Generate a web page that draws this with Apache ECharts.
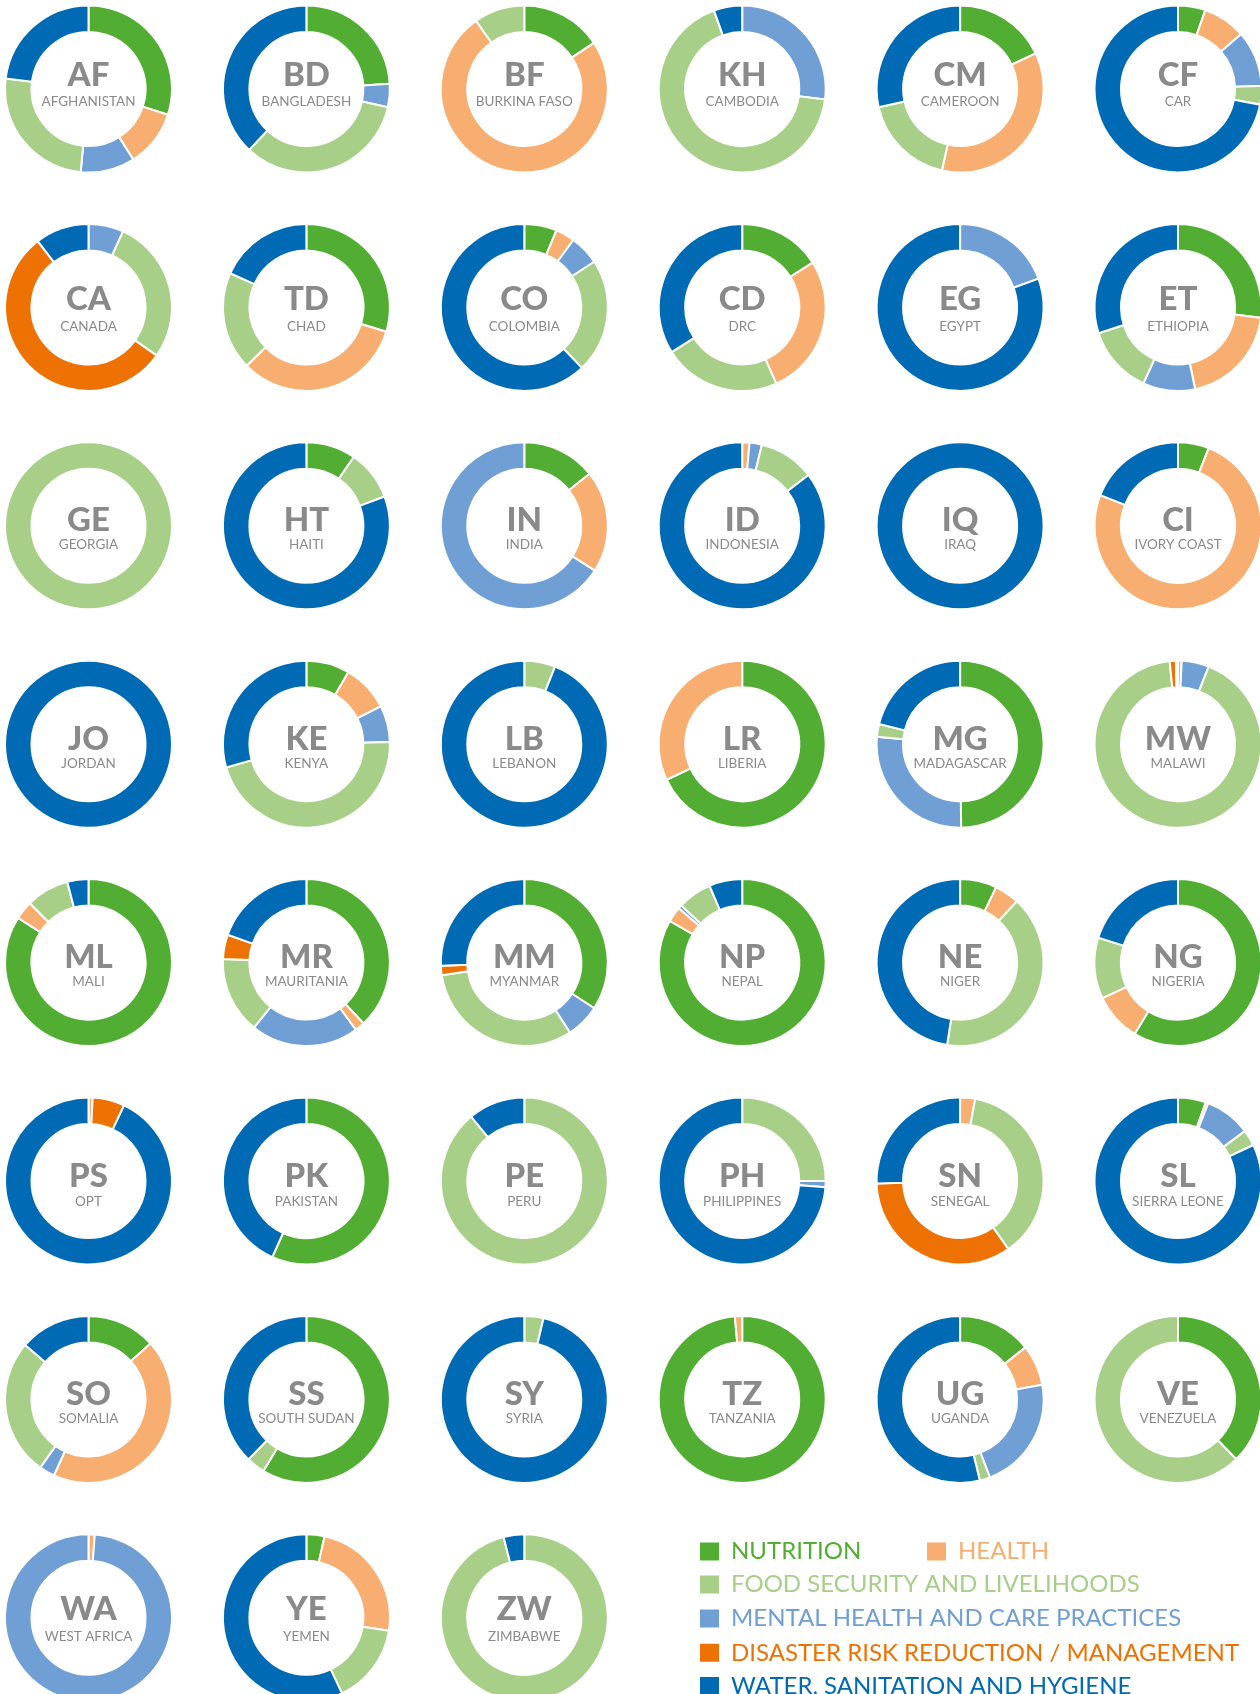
<!DOCTYPE html>
<html>
<head>
<meta charset="utf-8">
<script src="https://cdn.jsdelivr.net/npm/echarts@6/dist/echarts.min.js"></script>
<style>
  html, body { margin: 0; padding: 0; background: #ffffff; }
  #chart { width: 1260px; height: 1694px; }
</style>
</head>
<body>
<div id="chart"></div>
<script>
// ---- DATA ----
const categories = [
  'NUTRITION',
  'HEALTH',
  'MENTAL HEALTH AND CARE PRACTICES',
  'FOOD SECURITY AND LIVELIHOODS',
  'DISASTER RISK REDUCTION / MANAGEMENT',
  'WATER, SANITATION AND HYGIENE'
];
const codes = ['AF','BD','BF','KH','CM','CF','CA','TD','CO','CD','EG','ET','GE','HT','IN','ID','IQ','CI',
  'JO','KE','LB','LR','MG','MW','ML','MR','MM','NP','NE','NG','PS','PK','PE','PH','SN','SL',
  'SO','SS','SY','TZ','UG','VE','WA','YE','ZW'];
const countryNames = ['AFGHANISTAN','BANGLADESH','BURKINA FASO','CAMBODIA','CAMEROON','CAR',
  'CANADA','CHAD','COLOMBIA','DRC','EGYPT','ETHIOPIA',
  'GEORGIA','HAITI','INDIA','INDONESIA','IRAQ','IVORY COAST',
  'JORDAN','KENYA','LEBANON','LIBERIA','MADAGASCAR','MALAWI',
  'MALI','MAURITANIA','MYANMAR','NEPAL','NIGER','NIGERIA',
  'OPT','PAKISTAN','PERU','PHILIPPINES','SENEGAL','SIERRA LEONE',
  'SOMALIA','SOUTH SUDAN','SYRIA','TANZANIA','UGANDA','VENEZUELA',
  'WEST AFRICA','YEMEN','ZIMBABWE'];
// share (%) of each sector per country, same order as codes
const nutrition = [30,24,15.7,0,18,5.3, 0,29.7,6.3,16,0,27, 0,9.6,14.3,0,0,6,
  0,8.4,0,68,49.8,0, 84,38,34.2,83.3,7.1,58.7, 0,56.7,0,0,0,5.4, 13.3,58.6,0,98.6,14.3,37.7, 0,3.5,0];
const health = [11,0,74.5,0,35.5,8.3, 0,33,3.7,27.3,0,19.7, 0,0,19.7,1.4,0,75,
  0,9.1,0,32,0,0.7, 3.6,1.9,0,3,4.8,9.3, 0.8,0,0,0,2.9,0.5, 43.5,0,0,1.4,7.9,0, 1.2,24,0];
const mentalHealth = [10.5,4.5,0,27,0,10.8, 6.8,0,5.8,0,19.4,10.1, 0,0,66,2.4,0,0,
  0,7.1,0,0,26.6,5.3, 0,20.9,6.6,0.7,0,0, 0,0,0,1.2,0,8.9, 3,0,0,0,22,0, 98.8,0,0];
const foodSecurity = [25.5,33.5,9.8,67.5,18,3.6, 28,19,22.1,22.7,0,13.2, 100,9.7,0,10.8,0,0,
  0,45.9,6,0,2.5,92.4, 8.3,14.9,31.8,6.6,40.6,11.8, 0,0,89,25,37.3,3.1, 26.5,3.6,3.7,0,2,62.3, 0,15.5,96];
const disasterRisk = [0,0,0,0,0,0, 54.8,0,0,0,0,0, 0,0,0,0,0,0,
  0,0,0,0,0,1.2, 0,4.7,1.8,0,0,0, 6.2,0,0,0,34.3,0, 0,0,0,0,0,0, 0,0,0];
const wash = [23,38,0,5.5,28.5,72, 10.4,18.3,62.1,34,80.6,30, 0,80.7,0,85.4,100,19,
  100,29.5,94,0,21.1,0.4, 4.1,19.6,25.6,6.4,47.5,20.2, 93,43.3,11,73.8,25.5,82.1, 13.7,37.8,96.3,0,53.8,0, 0,57,4];
// drawing order of the sectors (clockwise from 12 o'clock); Philippines lists food security first
const defaultOrder = [0, 1, 2, 3, 4, 5];
const orderOverride = { PH: [0, 1, 3, 2, 4, 5] };

// ---- STYLE / LAYOUT ----
const colors = ['#52ae32', '#f7ae70', '#6f9fd5', '#a8cf87', '#ee7203', '#006ab4'];
const valueLists = [nutrition, health, mentalHealth, foodSecurity, disasterRisk, wash];
const colX0 = 88.5, colStep = 217.9, rowY0 = 89, rowStep = 218.4;
const codeY = [75.8, 299.5, 520.3, 739.2, 957.4, 1176.4, 1394.5, 1609.8];
const nameY = [101.7, 326.5, 545, 763.5, 982, 1201.7, 1419, 1636.3];
const grey = '#8a8a8a';

const series = [];
const graphics = [];
codes.forEach(function (code, i) {
  const col = i % 6, row = Math.floor(i / 6);
  const cx = colX0 + col * colStep;
  const cy = rowY0 + row * rowStep;
  const order = orderOverride[code] || defaultOrder;
  const data = [];
  order.forEach(function (k) {
    const v = valueLists[k][i];
    if (v > 0) data.push({ name: categories[k], value: v, itemStyle: { color: colors[k] } });
  });
  series.push({
    type: 'pie',
    center: [cx, cy],
    radius: [57, 83.5],
    startAngle: 90,
    clockwise: true,
    avoidLabelOverlap: false,
    silent: true,
    label: { show: false },
    labelLine: { show: false },
    itemStyle: { borderColor: '#ffffff', borderWidth: 2 },
    emphasis: { disabled: true },
    animation: false,
    data: data
  });
  graphics.push({
    type: 'text', x: cx, y: codeY[row], silent: true,
    style: { text: code, align: 'center', verticalAlign: 'middle', textAlign: 'center', textVerticalAlign: 'middle',
      font: '900 33px Lato, "Noto Sans", sans-serif', fill: grey }
  });
  graphics.push({
    type: 'text', x: cx, y: nameY[row], silent: true,
    style: { text: countryNames[i], align: 'center', verticalAlign: 'middle', textAlign: 'center', textVerticalAlign: 'middle',
      font: '13.5px Lato, "Noto Sans", sans-serif', fill: grey }
  });
});

const legendPos = [
  [698, 1539.5], [925, 1539.5], [698, 1606.5], [698, 1572.5], [698, 1640.8], [698, 1674]
];
const legends = categories.map(function (cat, k) {
  return {
    data: [cat],
    left: legendPos[k][0],
    top: legendPos[k][1],
    orient: 'horizontal',
    icon: 'rect',
    itemWidth: 21,
    itemHeight: 20,
    padding: 0,
    selectedMode: false,
    textStyle: { color: colors[k], fontSize: 24, fontFamily: 'Lato, "Noto Sans", sans-serif', padding: [0, 0, 0, 6] }
  };
});

const chart = echarts.init(document.getElementById('chart'), null, { renderer: 'canvas' });
chart.setOption({
  backgroundColor: '#ffffff',
  animation: false,
  legend: legends,
  series: series,
  graphic: graphics
});
</script>
</body>
</html>
